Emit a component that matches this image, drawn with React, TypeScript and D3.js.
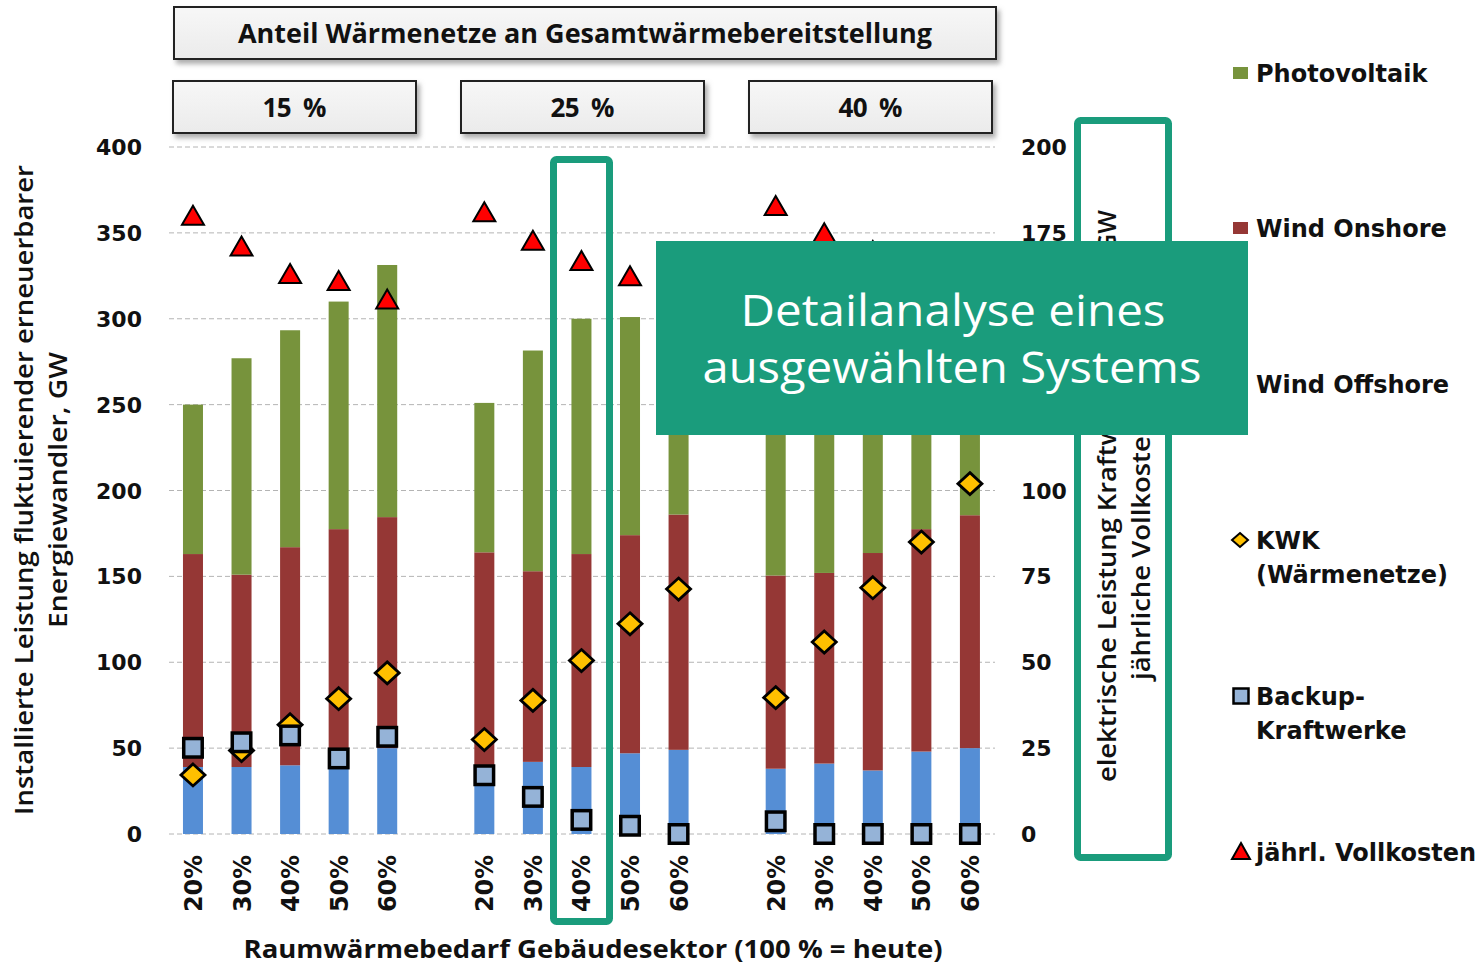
import React from "react";
import * as d3 from "d3";

const groupLabels = ["15 %", "25 %", "40 %"];
const scenarioLabels = ["20%", "30%", "40%", "50%", "60%"];

// stacked bars, left axis (GW)
const windOffshore = [39, 39, 40, 38, 50, 40, 42, 39, 47, 49, 38, 41, 37, 48, 50];
const windOnshore = [124, 112, 127, 139.5, 134.5, 124, 111, 124, 127, 137, 112.5, 111, 126.6, 129.5, 135.6];
const photovoltaik = [87, 126, 126.3, 132.5, 146.8, 87, 128.5, 137, 127, 139, 114.5, 133, 136.4, 137.5, 144.4];

// markers, right axis
const kwk = [17.2, 24.3, 31.8, 39.4, 46.9, 27.5, 38.9, 50.5, 61.2, 71.3, 39.7, 55.9, 71.7, 85, 102];
const backup = [25.1, 26.7, 28.7, 22, 28.3, 17.1, 10.8, 4.1, 2.4, 0, 3.7, 0, 0, 0, 0];
const vollkosten = [180, 171, 163, 161, 155.6, 181, 172.7, 166.8, 162.4, 159, 182.8, 174.9, 169.7, 166, 163];

const leftTicks = [0, 50, 100, 150, 200, 250, 300, 350, 400];
const rightTicks = [0, 25, 50, 75, 100, 125, 150, 175, 200];

const C_PV = "#77933C";
const C_ON = "#953735";
const C_OFF = "#558ED5";
const C_SQ = "#95B3D7";
const C_DIA = "#FFC000";
const C_TRI = "#FF0000";
const TEAL = "#1A9C7C";

const FRUT = "'Open Sans', 'Noto Sans', sans-serif";
const VERD = "'DejaVu Sans', Verdana, sans-serif";

export default function App() {
  const yL = d3.scaleLinear().domain([0, 400]).range([834, 147]);
  const yR = d3.scaleLinear().domain([0, 200]).range([834, 147]);
  const slots = d3.range(17);
  const x = d3.scaleBand<number>().domain(slots).range([168.4, 994.5]).paddingInner(0.588).paddingOuter(0.3);
  const bw = x.bandwidth();

  const items = windOffshore.map((_, k) => {
    const g = Math.floor(k / 5);
    const i = k % 5;
    const slot = g * 6 + i;
    const x0 = x(slot) as number;
    return { k, g, i, x0, cx: x0 + bw / 2 };
  });

  const stackKeys = ["off", "on", "pv"];
  const rows = items.map((it) => ({ off: windOffshore[it.k], on: windOnshore[it.k], pv: photovoltaik[it.k] }));
  const stacked = d3.stack<any>().keys(stackKeys)(rows);
  const colors: Record<string, string> = { off: C_OFF, on: C_ON, pv: C_PV };

  const tri = (cx: number, cy: number) => `M${cx},${cy - 10}L${cx + 11},${cy + 9}L${cx - 11},${cy + 9}Z`;
  const dia = (cx: number, cy: number) => `M${cx},${cy - 11}L${cx + 12},${cy}L${cx},${cy + 11}L${cx - 12},${cy}Z`;

  const legendY = [73, 228, 384, 540, 696, 852];

  return (
    <svg width={1480} height={966} style={{ position: "absolute", left: 0, top: 0, background: "#fff" }}>
      <defs>
        <filter id="sh" x="-5%" y="-20%" width="115%" height="160%">
          <feDropShadow dx="3" dy="4" stdDeviation="2.5" floodColor="#777" floodOpacity="0.6" />
        </filter>
        <linearGradient id="hg" x1="0" y1="0" x2="0" y2="1">
          <stop offset="0" stopColor="#f7f7f7" />
          <stop offset="1" stopColor="#ebebeb" />
        </linearGradient>
      </defs>
      <rect width={1480} height={966} fill="#fff" />

      {/* header boxes */}
      <rect x={174} y={7} width={822} height={52} fill="url(#hg)" stroke="#222" strokeWidth={2} filter="url(#sh)" />
      <text x={585} y={43} textAnchor="middle" fontFamily={FRUT} fontWeight={700} fontSize={26} fill="#111" textLength={694} lengthAdjust="spacingAndGlyphs">
        Anteil Wärmenetze an Gesamtwärmebereitstellung
      </text>
      {groupLabels.map((lab, g) => {
        const bx = [173, 461, 749][g];
        return (
          <g key={lab}>
            <rect x={bx} y={81} width={243} height={52} fill="url(#hg)" stroke="#222" strokeWidth={2} filter="url(#sh)" />
            <text x={bx + 121.5} y={117} textAnchor="middle" fontFamily={FRUT} fontWeight={700} fontSize={26} fill="#111" textLength={64} lengthAdjust="spacing">
              {lab.replace(" ", "\u2002")}
            </text>
          </g>
        );
      })}

      {/* gridlines */}
      {leftTicks.map((t) => (
        <line key={t} x1={169} x2={995} y1={yL(t)} y2={yL(t)} stroke="#b4b4b4" strokeWidth={1} strokeDasharray="5,3" />
      ))}

      {/* left ticks */}
      {leftTicks.map((t) => (
        <text key={t} x={142} y={yL(t) + 8} textAnchor="end" fontFamily={VERD} fontWeight="bold" fontSize={22} fill="#111">
          {t}
        </text>
      ))}
      {/* right ticks */}
      {rightTicks.map((t) => (
        <text key={t} x={1021} y={yR(t) + 8} textAnchor="start" fontFamily={VERD} fontWeight="bold" fontSize={22} fill="#111">
          {t}
        </text>
      ))}

      {/* left title */}
      <g transform="translate(33,490) rotate(-90)">
        <text x={0} y={0} textAnchor="middle" fontFamily={FRUT} fontWeight={600} fontSize={25} fill="#111" textLength={650} lengthAdjust="spacingAndGlyphs">
          Installierte Leistung fluktuierender erneuerbarer
        </text>
      </g>
      <g transform="translate(67,490) rotate(-90)">
        <text x={0} y={0} textAnchor="middle" fontFamily={FRUT} fontWeight={600} fontSize={25} fill="#111" textLength={276} lengthAdjust="spacingAndGlyphs">
          Energiewandler, GW
        </text>
      </g>

      {/* bars */}
      {stacked.map((layer) => (
        <g key={layer.key}>
          {layer.map((d: any, j: number) => (
            <rect
              key={j}
              x={items[j].x0}
              y={yL(d[1])}
              width={bw}
              height={yL(d[0]) - yL(d[1])}
              fill={colors[layer.key as string]}
            />
          ))}
        </g>
      ))}

      {/* KWK diamonds */}
      {items.map((it) => (
        <path key={"d" + it.k} d={dia(it.cx, yR(kwk[it.k]))} fill={C_DIA} stroke="#000" strokeWidth={2.8} strokeLinejoin="miter" />
      ))}
      {/* Backup squares */}
      {items.map((it) => (
        <rect key={"s" + it.k} x={it.cx - 9.25} y={yR(backup[it.k]) - 9.25} width={18.5} height={18.5} fill={C_SQ} stroke="#000" strokeWidth={3.5} />
      ))}
      {/* Vollkosten triangles */}
      {items.map((it) => (
        <path key={"t" + it.k} d={tri(it.cx, yR(vollkosten[it.k]))} fill={C_TRI} stroke="#000" strokeWidth={2} strokeLinejoin="miter" />
      ))}

      {/* x labels */}
      {items.map((it) => (
        <g key={"xl" + it.k} transform={`translate(${it.cx + 9},855) rotate(-90)`}>
          <text x={0} y={0} textAnchor="end" fontFamily={VERD} fontWeight="bold" fontSize={24} fill="#111" textLength={57} lengthAdjust="spacingAndGlyphs">
            {scenarioLabels[it.i]}
          </text>
        </g>
      ))}

      {/* x title */}
      <text x={593} y={958} textAnchor="middle" fontFamily={FRUT} fontWeight={700} fontSize={25} fill="#111" textLength={699} lengthAdjust="spacingAndGlyphs">
        Raumwärmebedarf Gebäudesektor (100 % = heute)
      </text>

      {/* highlight selected system */}
      <rect x={553.5} y={159.5} width={56} height={762} rx={3} fill="none" stroke={TEAL} strokeWidth={7} />

      {/* right title box */}
      <rect x={1077.5} y={120.5} width={91} height={737} rx={3} fill="#fff" stroke={TEAL} strokeWidth={7} />
      <g transform="translate(1116,782) rotate(-90)">
        <text x={0} y={0} textAnchor="start" fontFamily={FRUT} fontWeight={600} fontSize={25} fill="#111" textLength={425} lengthAdjust="spacingAndGlyphs">
          elektrische Leistung Kraftwerke,
        </text>
      </g>
      <g transform="translate(1116,252) rotate(-90)">
        <text x={0} y={0} textAnchor="start" fontFamily={FRUT} fontWeight={600} fontSize={25} fill="#111" textLength={42} lengthAdjust="spacingAndGlyphs">
          GW
        </text>
      </g>
      <g transform="translate(1150,680) rotate(-90)">
        <text x={0} y={0} textAnchor="start" fontFamily={FRUT} fontWeight={600} fontSize={25} fill="#111" textLength={387} lengthAdjust="spacingAndGlyphs">
          jährliche Vollkosten, Mrd. €/a
        </text>
      </g>

      {/* legend */}
      <rect x={1233} y={legendY[0] - 6} width={15} height={12} fill={C_PV} />
      <rect x={1233} y={legendY[1] - 6} width={15} height={12} fill={C_ON} />
      <rect x={1233} y={legendY[2] - 6} width={15} height={12} fill={C_OFF} />
      <path d={`M1240,${legendY[3] - 7}L1248,${legendY[3]}L1240,${legendY[3] + 7}L1232,${legendY[3]}Z`} fill={C_DIA} stroke="#000" strokeWidth={2} />
      <rect x={1233.5} y={legendY[4] - 7.5} width={15} height={15} fill={C_SQ} stroke="#000" strokeWidth={2.5} />
      <path d={`M1241,${legendY[5] - 9}L1250,${legendY[5] + 7}L1232,${legendY[5] + 7}Z`} fill={C_TRI} stroke="#000" strokeWidth={2} />
      {[
        ["Photovoltaik"],
        ["Wind Onshore"],
        ["Wind Offshore"],
        ["KWK", "(Wärmenetze)"],
        ["Backup-", "Kraftwerke"],
        ["jährl. Vollkosten"],
      ].map((lines, j) => (
        <text key={j} x={1256} y={legendY[j] + 9} fontFamily={VERD} fontWeight="bold" fontSize={24} fill="#111">
          {lines.map((l, m) => (
            <tspan key={m} x={1256} dy={m === 0 ? 0 : 34}>
              {l}
            </tspan>
          ))}
        </text>
      ))}

      {/* overlay */}
      <rect x={656} y={241} width={592} height={194} fill={TEAL} />
      <text x={953} y={326} textAnchor="middle" fontFamily={FRUT} fontWeight={400} fontSize={44} fill="#fff" textLength={425} lengthAdjust="spacingAndGlyphs">
        Detailanalyse eines
      </text>
      <text x={952} y={383} textAnchor="middle" fontFamily={FRUT} fontWeight={400} fontSize={44} fill="#fff" textLength={499} lengthAdjust="spacingAndGlyphs">
        ausgewählten Systems
      </text>
    </svg>
  );
}
